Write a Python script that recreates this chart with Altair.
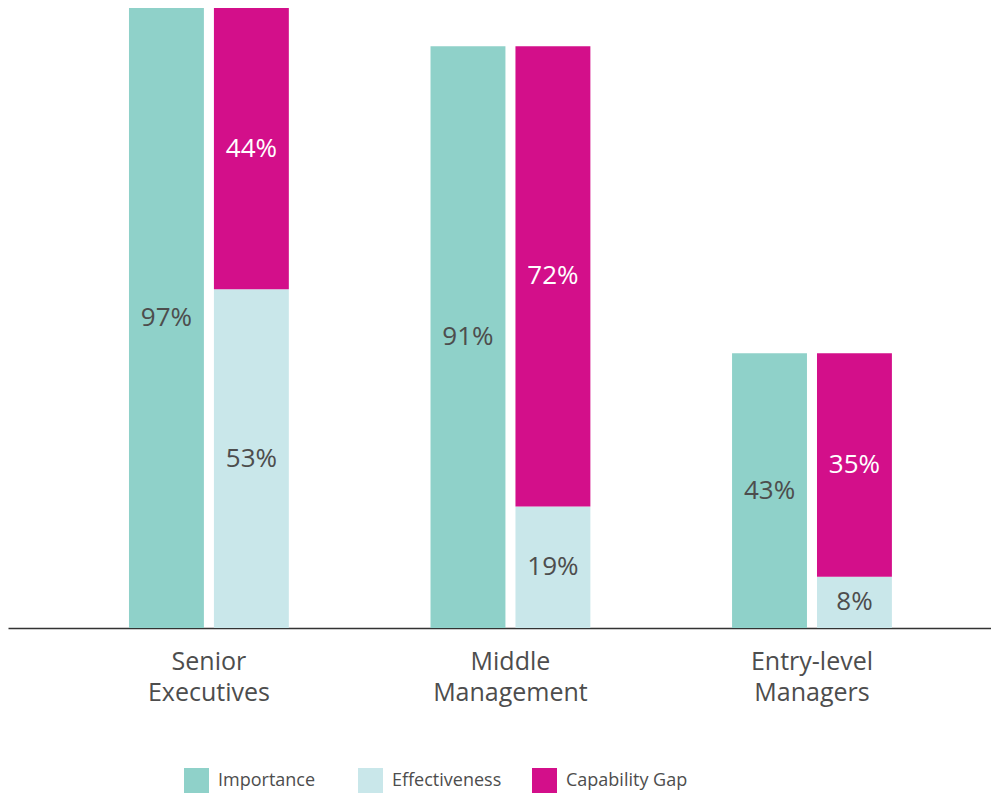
import altair as alt
import pandas as pd

groups = ["Senior Executives", "Middle Management", "Entry-level Managers"]
importance = [97, 91, 43]
effectiveness = [53, 19, 8]
capability_gap = [44, 72, 35]

series = ["Importance", "Effectiveness", "Capability Gap"]
colors = ["#8fd1c9", "#c9e7ea", "#d30f8a"]

rows = []
for g, imp, eff, gap in zip(groups, importance, effectiveness, capability_gap):
    rows.append({"group": g, "col": "A", "series": "Importance", "value": imp, "order": 0})
    rows.append({"group": g, "col": "B", "series": "Effectiveness", "value": eff, "order": 0})
    rows.append({"group": g, "col": "B", "series": "Capability Gap", "value": gap, "order": 1})
df = pd.DataFrame(rows)

FONT = "Open Sans"
TXT = "#4d4d4d"

base = alt.Chart(df).transform_stack(
    stack="value", groupby=["group", "col"], as_=["y0", "y1"],
    sort=[alt.SortField("order", order="ascending")]
).transform_calculate(
    mid="(datum.y0 + datum.y1) / 2",
    lbl="datum.value + '%'"
)

x_enc = alt.X(
    "group:N", sort=groups, title=None,
    scale=alt.Scale(paddingInner=0.4, paddingOuter=0.33, align=0.555),
    axis=alt.Axis(
        labelAngle=0, ticks=False, domain=True, domainColor="#333333", domainWidth=1.5,
        labelFont=FONT, labelFontSize=25, labelColor=TXT, labelPadding=21,
        labelLineHeight=31, labelExpr="split(datum.label, ' ')", labelBaseline="top",
    ),
)
xoff = alt.XOffset("col:N", scale=alt.Scale(paddingInner=0.118, paddingOuter=0.124))

bars = base.mark_bar().encode(
    x=x_enc,
    xOffset=xoff,
    y=alt.Y("y0:Q", scale=alt.Scale(domain=[0, 97], nice=False), axis=None),
    y2="y1:Q",
    color=alt.Color(
        "series:N",
        scale=alt.Scale(domain=series, range=colors),
        sort=series,
        legend=alt.Legend(
            title=None, orient="none", legendX=176, legendY=760, direction="horizontal",
            columns=3, gridAlign="all", columnPadding=18,
            symbolType="square", symbolSize=625, symbolStrokeWidth=0, symbolOpacity=1,
            labelFont=FONT, labelFontSize=18, labelColor=TXT, labelOffset=9, padding=0,
        ),
    ),
)

labels = base.mark_text(font=FONT, fontSize=26, baseline="middle", align="center").encode(
    x=alt.X("group:N", sort=groups),
    xOffset=xoff,
    y=alt.Y("mid:Q"),
    text="lbl:N",
    color=alt.condition(alt.datum.series == "Capability Gap", alt.value("white"), alt.value(TXT)),
)

chart = alt.layer(bars, labels).properties(
    width=983, height=620, padding=0, background="white"
).configure_view(strokeWidth=0, stroke="transparent")

chart.save("out.html", embed_options={"renderer": "svg", "actions": False})
